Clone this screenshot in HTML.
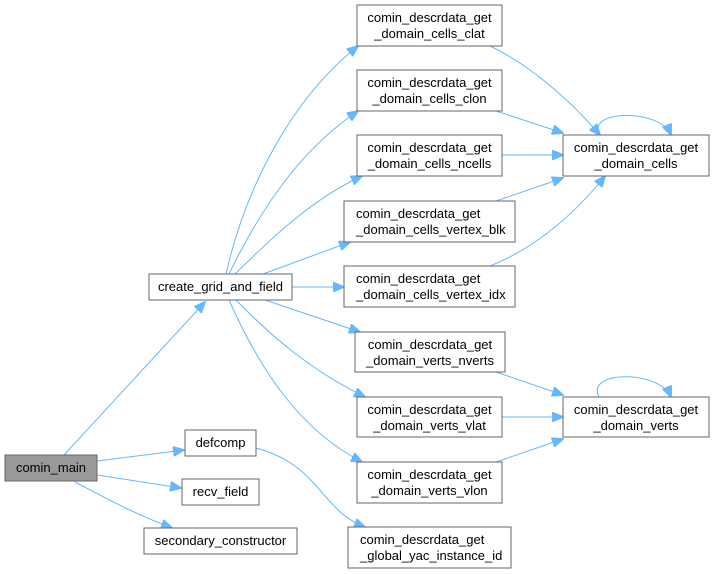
<!DOCTYPE html>
<html><head><meta charset="utf-8"><style>
html,body{margin:0;padding:0;background:#fff;}
svg{display:block;}
text{font-family:"Liberation Sans",Arial,sans-serif;font-size:13px;fill:#000;}
.n{fill:#fff;stroke:#666;stroke-width:1;}
.e{fill:none;stroke:#63b8ff;stroke-width:1;}
</style></head><body>
<svg width="714" height="574" viewBox="0 0 714 574" xmlns="http://www.w3.org/2000/svg">
<defs><marker id="a" markerWidth="12" markerHeight="10" refX="11" refY="5" orient="auto" markerUnits="userSpaceOnUse"><path d="M0,0 L12,5 L0,10 z" fill="#63b8ff" stroke="#63b8ff"/></marker></defs>

<path class="e" marker-end="url(#a)" d="M64,455 L205,302"/>
<path class="e" marker-end="url(#a)" d="M97,461 L184,450"/>
<path class="e" marker-end="url(#a)" d="M97,475 L181,488"/>
<path class="e" marker-end="url(#a)" d="M75,482 C100,495 130,512 172,528"/>
<path class="e" marker-end="url(#a)" d="M226,274 C245,190 290,100 358,46"/>
<path class="e" marker-end="url(#a)" d="M229,274 C260,210 300,150 358,111"/>
<path class="e" marker-end="url(#a)" d="M235,274 C270,240 310,200 362,176"/>
<path class="e" marker-end="url(#a)" d="M263,274 L350,242"/>
<path class="e" marker-end="url(#a)" d="M292,287 L344,287"/>
<path class="e" marker-end="url(#a)" d="M265,300 L360,332"/>
<path class="e" marker-end="url(#a)" d="M236,300 C270,335 310,370 365,397"/>
<path class="e" marker-end="url(#a)" d="M229,300 C260,370 300,430 362,462"/>
<path class="e" marker-end="url(#a)" d="M256,448 C320,465 320,510 365,527"/>
<path class="e" marker-end="url(#a)" d="M490,46 C530,65 570,100 600,135"/>
<path class="e" marker-end="url(#a)" d="M496,111 L563,133"/>
<path class="e" marker-end="url(#a)" d="M502,155 L563,155"/>
<path class="e" marker-end="url(#a)" d="M496,201 L563,178"/>
<path class="e" marker-end="url(#a)" d="M490,266 C530,250 570,220 605,176"/>
<path class="e" marker-end="url(#a)" d="M600,135 C585,110 660,108 671,135"/>
<path class="e" marker-end="url(#a)" d="M496,372 L563,395"/>
<path class="e" marker-end="url(#a)" d="M502,417 L563,417"/>
<path class="e" marker-end="url(#a)" d="M496,462 L563,439"/>
<path class="e" marker-end="url(#a)" d="M599,397 C585,370 660,370 671,397"/>

<rect x="5" y="455" width="92" height="26" fill="#999" stroke="#666"/>
<text x="51" y="472" text-anchor="middle">comin_main</text>
<rect class="n" x="149" y="274" width="143" height="26"/><text x="220.5" y="291" text-anchor="middle">create_grid_and_field</text>
<rect class="n" x="185" y="430" width="71" height="26"/><text x="220.5" y="447" text-anchor="middle">defcomp</text>
<rect class="n" x="182" y="479" width="77" height="26"/><text x="220.5" y="496" text-anchor="middle">recv_field</text>
<rect class="n" x="144" y="528" width="153" height="26"/><text x="220.5" y="545" text-anchor="middle">secondary_constructor</text>

<rect class="n" x="357" y="5" width="145" height="41"/><text x="429.5" y="22" text-anchor="middle">comin_descrdata_get</text><text x="429.5" y="38" text-anchor="middle">_domain_cells_clat</text>
<rect class="n" x="357" y="70" width="145" height="41"/><text x="429.5" y="87" text-anchor="middle">comin_descrdata_get</text><text x="429.5" y="103" text-anchor="middle">_domain_cells_clon</text>
<rect class="n" x="357" y="135" width="145" height="41"/><text x="429.5" y="152" text-anchor="middle">comin_descrdata_get</text><text x="429.5" y="168" text-anchor="middle">_domain_cells_ncells</text>
<rect class="n" x="344" y="201" width="171" height="41"/><text x="356" y="218">comin_descrdata_get</text><text x="356" y="234">_domain_cells_vertex_blk</text>
<rect class="n" x="344" y="266" width="171" height="41"/><text x="356" y="283">comin_descrdata_get</text><text x="356" y="299">_domain_cells_vertex_idx</text>
<rect class="n" x="355" y="332" width="150" height="40"/><text x="430" y="349" text-anchor="middle">comin_descrdata_get</text><text x="430" y="365" text-anchor="middle">_domain_verts_nverts</text>
<rect class="n" x="357" y="397" width="145" height="40"/><text x="429.5" y="414" text-anchor="middle">comin_descrdata_get</text><text x="429.5" y="430" text-anchor="middle">_domain_verts_vlat</text>
<rect class="n" x="357" y="462" width="145" height="41"/><text x="429.5" y="479" text-anchor="middle">comin_descrdata_get</text><text x="429.5" y="495" text-anchor="middle">_domain_verts_vlon</text>
<rect class="n" x="348" y="527" width="163" height="41"/><text x="360" y="544">comin_descrdata_get</text><text x="360" y="560">_global_yac_instance_id</text>

<rect class="n" x="563" y="135" width="146" height="41"/><text x="636" y="152" text-anchor="middle">comin_descrdata_get</text><text x="636" y="168" text-anchor="middle">_domain_cells</text>
<rect class="n" x="563" y="397" width="146" height="40"/><text x="636" y="414" text-anchor="middle">comin_descrdata_get</text><text x="636" y="430" text-anchor="middle">_domain_verts</text>
</svg>
</body></html>
